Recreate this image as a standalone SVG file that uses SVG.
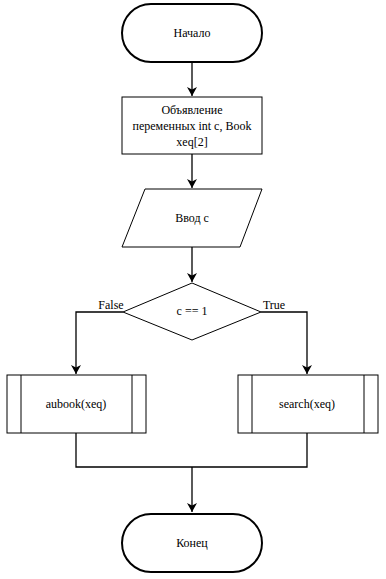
<svg xmlns="http://www.w3.org/2000/svg" width="386" height="579" viewBox="0 0 386 579">
<style>
.t{font-family:"Liberation Serif","Times New Roman",serif;font-size:12px;fill:#000;text-anchor:middle;dominant-baseline:central}
.term{fill:#fff;stroke:#000;stroke-width:2}
.box{fill:#fff;stroke:#000;stroke-width:1}
.c{fill:none;stroke:#000;stroke-width:1.3}
</style>
<defs>
<marker id="ah" markerWidth="10" markerHeight="10" refX="9" refY="5" orient="auto" markerUnits="userSpaceOnUse">
<path d="M0,0 L9,5 L0,10 L2.5,5 Z" fill="#000"/>
</marker>
</defs>
<g id="connectors">
<path class="c" d="M192,62 V96" marker-end="url(#ah)"/>
<path class="c" d="M192,154 V188" marker-end="url(#ah)"/>
<path class="c" d="M192,247 V282" marker-end="url(#ah)"/>
<path class="c" d="M123,312 H76 V374" marker-end="url(#ah)"/>
<path class="c" d="M261,312 H307 V374" marker-end="url(#ah)"/>
<path class="c" d="M76,433 V467 H307 V433"/>
<path class="c" d="M192,467 V512" marker-end="url(#ah)"/>
<text class="t" x="111" y="305">False</text>
<text class="t" x="274" y="305">True</text>
</g>
<g id="start">
<rect class="term" x="122" y="4" width="140" height="58" rx="29"/>
<text class="t" x="192" y="33">Начало</text>
</g>
<g id="decl">
<rect class="box" x="122" y="97" width="140" height="57"/>
<text class="t" x="192" y="110">Объявление</text>
<text class="t" x="192" y="126">переменных int c, Book</text>
<text class="t" x="192" y="142">xeq[2]</text>
</g>
<g id="input">
<polygon class="box" points="145,189 262,189 240,247 122,247"/>
<text class="t" x="192" y="218">Ввод с</text>
</g>
<g id="cond">
<polygon class="box" points="192,283 261,312 192,340 123,312"/>
<text class="t" x="192" y="311">c == 1</text>
</g>
<g id="aubook">
<rect class="box" x="7" y="375" width="139" height="58"/>
<line class="box" x1="21" y1="375" x2="21" y2="433"/>
<line class="box" x1="132" y1="375" x2="132" y2="433"/>
<text class="t" x="76" y="404">aubook(xeq)</text>
</g>
<g id="search">
<rect class="box" x="238" y="375" width="140" height="58"/>
<line class="box" x1="252" y1="375" x2="252" y2="433"/>
<line class="box" x1="364" y1="375" x2="364" y2="433"/>
<text class="t" x="307" y="404">search(xeq)</text>
</g>
<g id="end">
<rect class="term" x="122" y="514" width="140" height="58" rx="29"/>
<text class="t" x="192" y="543">Конец</text>
</g>
</svg>
